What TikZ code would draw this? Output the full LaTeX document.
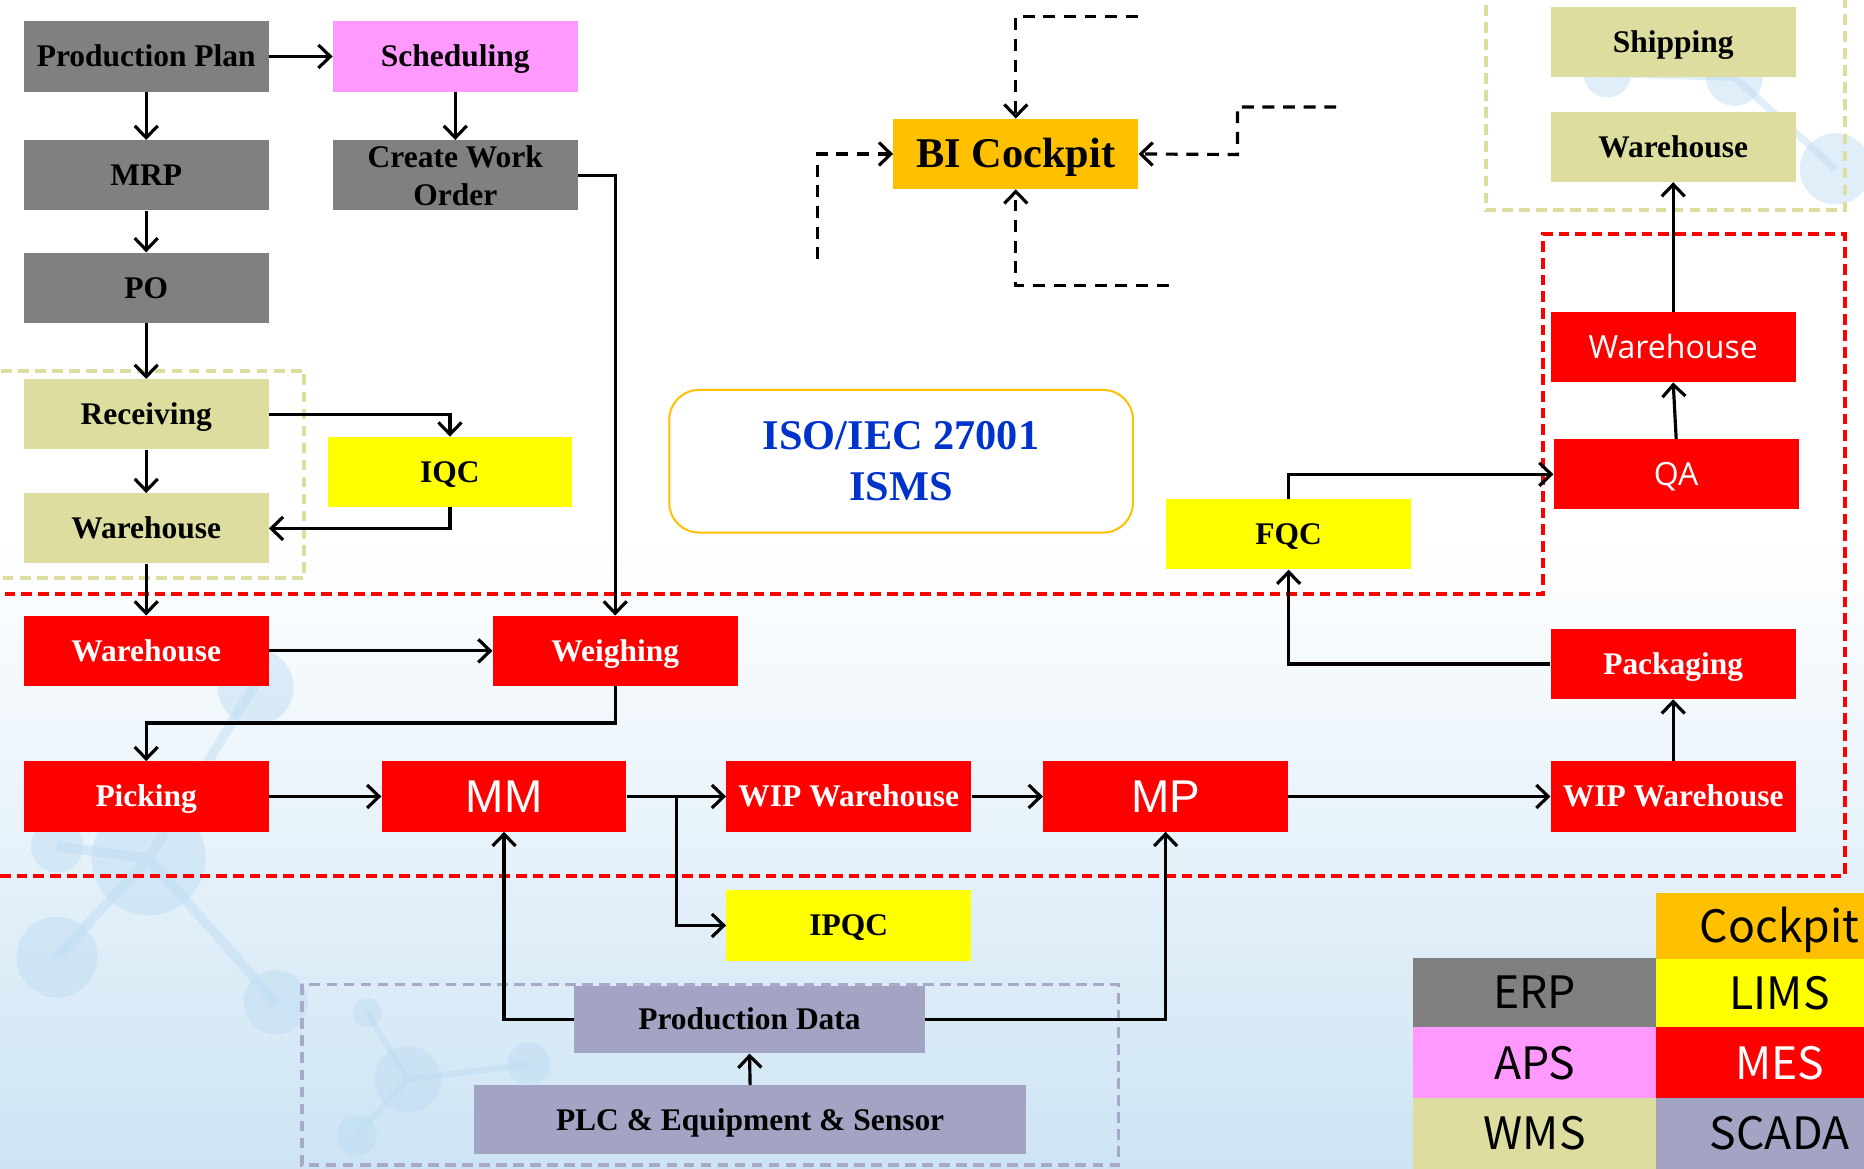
\documentclass[tikz,border=0pt]{standalone}
\usepackage{fontspec}
\setmainfont{Liberation Serif}
\newfontfamily\lsans{Liberation Sans}
\newfontfamily\osans{Open Sans}
\newfontfamily\cjksans{Noto Sans CJK SC}
\usetikzlibrary{arrows.meta}
\definecolor{erpgray}{RGB}{128,128,128}
\definecolor{apspink}{RGB}{255,153,255}
\definecolor{wmskhaki}{RGB}{221,221,160}
\definecolor{limsyel}{RGB}{255,255,0}
\definecolor{mesred}{RGB}{255,0,0}
\definecolor{bior}{RGB}{255,192,0}
\definecolor{scadalav}{RGB}{163,163,196}
\definecolor{scadaline}{RGB}{168,168,200}
\definecolor{isoblue}{RGB}{0,51,204}
\definecolor{bgblue}{RGB}{205,228,244}
\definecolor{molblue}{RGB}{188,219,243}
\begin{document}
\begin{tikzpicture}[x=0.3mm,y=-0.3mm,
  bx/.style={rectangle, minimum width=61.8mm, minimum height=17.7mm, inner sep=0pt, align=center,
    text height=15pt, text depth=0pt,
    font=\fontsize{22.6}{27.3}\selectfont\bfseries},
  erpbox/.style={bx, fill=erpgray},
  apsbox/.style={bx, fill=apspink},
  wmsbox/.style={bx, fill=wmskhaki},
  limsbox/.style={bx, fill=limsyel},
  mesbox/.style={bx, fill=mesred, text=white},
  scadabox/.style={bx, fill=scadalav},
  mesans/.style={font=\osans\fontsize{23}{27}\selectfont, text height=16.4pt},
  mesbig/.style={font=\lsans\fontsize{33}{36}\selectfont, text height=23.6pt},
  legtext/.style={font=\cjksans\fontsize{32}{36}\selectfont, text height=23.4pt},
  arr/.style={line width=0.8mm, -{Straight Barb[length=3mm, width=5.8mm, line width=0.8mm]}},
  darr/.style={arr, dash pattern=on 3mm off 2.2mm},
  wmsframe/.style={draw=wmskhaki, line width=1mm, dash pattern=on 2.7mm off 1.6mm},
  mesframe/.style={draw=mesred, line width=1mm, dash pattern=on 2.7mm off 1.5mm},
  scadaframe/.style={draw=scadaline, line width=0.9mm, dash pattern=on 2.7mm off 1.6mm},
  mol/.style={fill=molblue, opacity=0.45},
  molline/.style={draw=molblue, line width=2.4mm, opacity=0.45}
]
\useasboundingbox (0,0) rectangle (1568,983);
\clip (0,0) rectangle (1568,983);
% background
\fill[white] (0,0) rectangle (1568,983);
\shade[top color=white, bottom color=bgblue] (0,450) rectangle (1568,984);
% faint molecule decorations
\draw[molline] (125,722) -- (48,805) (125,722) -- (232,843) (125,722) -- (215,575) (125,722) -- (48,712);
\fill[mol] (125,722) circle[radius=48];
\fill[mol] (48,805) circle[radius=34];
\fill[mol] (215,578) circle[radius=32];
\fill[mol] (232,843) circle[radius=27];
\fill[mol] (48,712) circle[radius=22];
\draw[molline, line width=1.5mm] (309,852) -- (343,908) -- (445,895) (343,908) -- (300,955);
\fill[mol] (309,852) circle[radius=12];
\fill[mol] (343,908) circle[radius=28];
\fill[mol] (445,895) circle[radius=18];
\fill[mol] (300,955) circle[radius=17];
\draw[molline, line width=1.8mm] (1352,62) -- (1459,65) -- (1544,142);
\fill[mol] (1352,62) circle[radius=20];
\fill[mol] (1459,65) circle[radius=24];
\fill[mol] (1544,142) circle[radius=30];
% frames
\draw[wmsframe] (-10,312) rectangle (256,486);
\draw[wmsframe] (1250,-10) rectangle (1552,177);
\draw[mesframe] (-10,500) -- (1298,500) -- (1298,197) -- (1552,197) -- (1552,737) -- (-10,737);
\draw[scadaframe] (254,828) rectangle (941,980);
% ISO box
\node[draw=bior, line width=0.5mm, fill=white, rounded corners=7.5mm, minimum width=117mm, minimum height=36mm,
  align=center, text=isoblue, font=\fontsize{30.4}{36.7}\selectfont\bfseries] (iso) at (758,388) {ISO/IEC 27001\\ISMS};
% ERP / APS / WMS column
\node[erpbox] (pp) at (123,47.5) {Production Plan};
\node[erpbox] (mrp) at (123,147.5) {MRP};
\node[erpbox] (po) at (123,242) {PO};
\node[wmsbox] (rec) at (123,348.5) {Receiving};
\node[wmsbox] (whw) at (123,444.5) {Warehouse};
\node[mesbox] (whr) at (123,547.5) {Warehouse};
\node[mesbox] (pick) at (123,670) {Picking};
\node[apsbox] (sch) at (383,47.5) {Scheduling};
\node[erpbox, text height=, text depth=] (cwo) at (383,147.5) {Create Work\\Order};
\node[limsbox] (iqc) at (378.5,397) {IQC};
\node[mesbox] (wei) at (517.5,547.5) {Weighing};
\node[mesbox, mesbig] (mm) at (424,670) {MM};
\node[mesbox] (wip1) at (714,670) {WIP Warehouse};
\node[limsbox] (ipqc) at (714,778.5) {IPQC};
\node[mesbox, mesbig] (mp) at (980.5,670) {MP};
\node[mesbox] (wip2) at (1407.5,670) {WIP Warehouse};
\node[mesbox] (pack) at (1407.5,558.5) {Packaging};
\node[limsbox] (fqc) at (1084,449.5) {FQC};
\node[mesbox, mesans] (qa) at (1410,399) {QA};
\node[mesbox, mesans] (whr2) at (1407.5,292) {Warehouse};
\node[wmsbox] (whw2) at (1407.5,123.5) {Warehouse};
\node[wmsbox] (ship) at (1407.5,35.5) {Shipping};
\node[bx, fill=bior, font=\fontsize{30.4}{34}\selectfont\bfseries, text height=20pt] (bi) at (854.5,129.5) {BI Cockpit};
\node[scadabox, minimum width=88.5mm, minimum height=17.1mm] (pd) at (630.5,857.5) {Production Data};
\node[scadabox, minimum width=139.2mm, minimum height=17.4mm] (plc) at (631,942) {PLC \& Equipment \& Sensor};
% legend
\node[erpbox, legtext, minimum width=61.2mm, minimum height=17.4mm] (lerp) at (1291,835) {ERP};
\node[apsbox, legtext, minimum width=61.2mm, minimum height=18mm] (laps) at (1291,894) {APS};
\node[wmsbox, legtext, minimum width=61.2mm, minimum height=17.7mm] (lwms) at (1291,953.5) {WMS};
\node[bx, fill=bior, legtext, minimum width=62.4mm, minimum height=16.8mm] (lcock) at (1497,779) {Cockpit};
\node[limsbox, legtext, minimum width=62.4mm, minimum height=17.1mm] (llims) at (1497,835.5) {LIMS};
\node[mesbox, legtext, minimum width=62.4mm, minimum height=18mm] (lmes) at (1497,894) {MES};
\node[scadabox, legtext, minimum width=62.4mm, minimum height=17.7mm] (lscada) at (1497,953.5) {SCADA};
% connectors
\draw[arr] (pp.east) -- (sch.west);
\draw[arr] (pp.south) -- (mrp.north);
\draw[arr] (mrp.south) -- (po.north);
\draw[arr] (po.south) -- (rec.north);
\draw[arr] (sch.south) -- (cwo.north);
\draw[arr] (cwo.east) -| (wei.north);
\draw[arr] (rec.east) -| (iqc.north);
\draw[arr] (iqc.south) |- (whw.east);
\draw[arr] (rec.south) -- (whw.north);
\draw[arr] (whw.south) -- (whr.north);
\draw[arr] (whr.east) -- (wei.west);
\draw[arr] (wei.south) -- ++(0,31) -| (pick.north);
\draw[arr] (pick.east) -- (mm.west);
\draw[arr] (mm.east) -- (wip1.west);
\coordinate (br) at (569,670);
\draw[arr] (br) |- (ipqc.west);
\draw[arr] (wip1.east) -- (mp.west);
\draw[arr] (mp.east) -- (wip2.west);
\draw[arr] (wip2.north) -- (pack.south);
\draw[arr] (pack.west) -| (fqc.south);
\draw[arr] (fqc.north) |- (qa.west);
\draw[arr] (qa.north) -- (whr2.south);
\draw[arr] (whr2.north) -- (whw2.south);
\draw[arr] (pd.west) -| (mm.south);
\draw[arr] (pd.east) -| (mp.south);
\draw[arr] (plc.north) -- (pd.south);
% BI cockpit dashed feeds
\coordinate (c1) at (688,218);
\coordinate (c2) at (1124,90);
\coordinate (c3) at (957,14);
\coordinate (c4) at (983,240);
\draw[darr] (c1) |- (bi.west);
\draw[darr] (c2) -| ++(-83,40) -- (bi.east);
\draw[darr] (c3) -| (bi.north);
\draw[darr] (c4) -| (bi.south);
\end{tikzpicture}
\end{document}
